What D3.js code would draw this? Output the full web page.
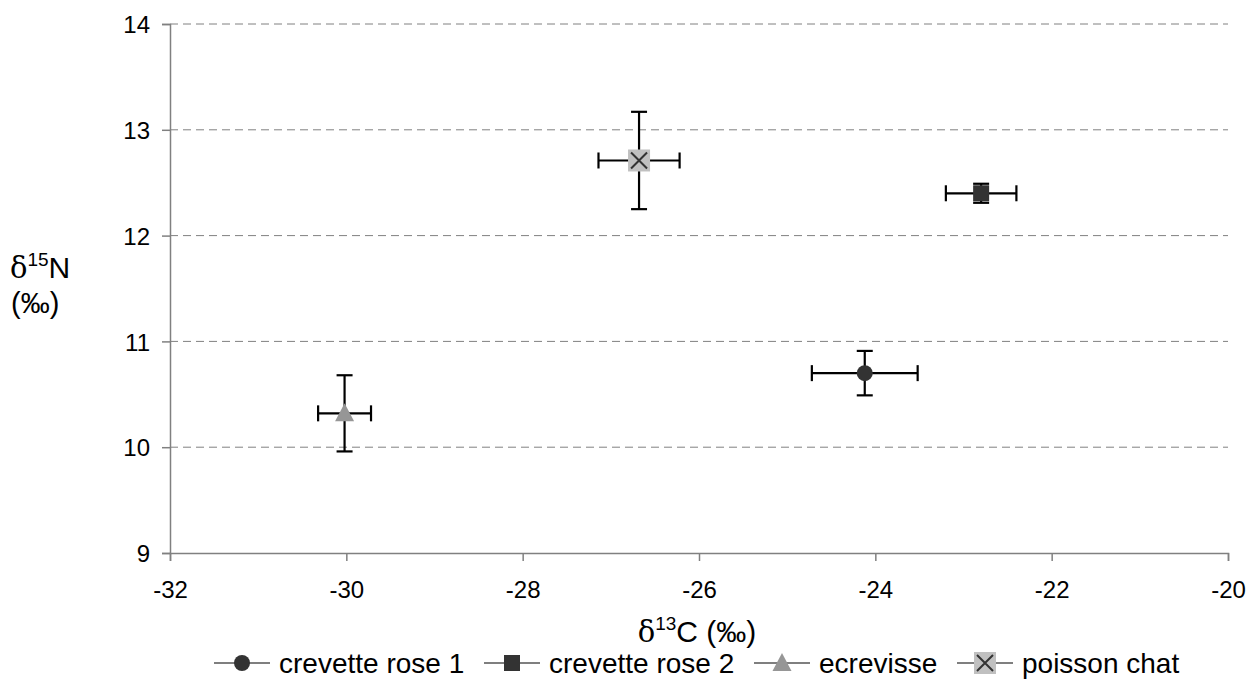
<!DOCTYPE html>
<html>
<head>
<meta charset="utf-8">
<script src="https://cdn.jsdelivr.net/npm/d3@7"></script>
<style>
  html, body { margin: 0; padding: 0; background: #fff; }
  svg { display: block; font-family: "Liberation Sans", Arial, sans-serif; }
</style>
</head>
<body>
<svg id="chart" width="1254" height="682"></svg>
<script>
// Stable isotope means (‰) and standard deviations per taxon
const species = ["crevette rose 1", "crevette rose 2", "ecrevisse", "poisson chat"];
const d13C    = [-24.12, -22.80, -30.02, -26.68];
const d15N    = [10.70, 12.40, 10.32, 12.71];
const sdC     = [0.60, 0.40, 0.30, 0.46];
const sdN     = [0.21, 0.09, 0.36, 0.46];
const xTicks  = [-32, -30, -28, -26, -24, -22, -20];
const yTicks  = [9, 10, 11, 12, 13, 14];

const rows = species.map((s, i) => ({ name: s, x: d13C[i], y: d15N[i], ex: sdC[i], ey: sdN[i], kind: i }));

const svg = d3.select("#chart");
const margin = { left: 170, right: 1228, top: 24, bottom: 553 };

const x = d3.scaleLinear().domain([-32, -20]).range([margin.left, margin.right]);
const y = d3.scaleLinear().domain([9, 14]).range([margin.bottom, margin.top]);

// dashed horizontal gridlines
svg.append("g")
  .selectAll("line")
  .data(yTicks.filter(t => t > 9))
  .join("line")
  .attr("x1", x(-32)).attr("x2", x(-20))
  .attr("y1", d => y(d)).attr("y2", d => y(d))
  .attr("stroke", "#808080").attr("stroke-width", 1)
  .attr("stroke-dasharray", "8,5");

// axes (plain hyphen for negative numbers)
const fmt = d => String(d);
const xAxis = svg.append("g")
  .attr("transform", `translate(0,${y(9)})`)
  .call(d3.axisBottom(x).tickValues(xTicks).tickSize(8).tickPadding(20).tickFormat(fmt));
const yAxis = svg.append("g")
  .attr("transform", `translate(${x(-32)},0)`)
  .call(d3.axisLeft(y).tickValues(yTicks).tickSize(8).tickPadding(12).tickFormat(fmt));

[xAxis, yAxis].forEach(g => {
  g.select(".domain").attr("stroke", "#808080").attr("stroke-width", 1.5);
  g.selectAll(".tick line").attr("stroke", "#808080").attr("stroke-width", 1.5);
  g.selectAll(".tick text").attr("fill", "#000").style("font-size", "24px")
    .style("font-family", "'Liberation Sans', Arial, sans-serif");
});
yAxis.selectAll(".tick text").attr("dy", "0.36em");

// error bars
const cap = 8;
const eb = svg.append("g").attr("stroke", "#000").attr("stroke-width", 2.2).attr("fill", "none");
rows.forEach(d => {
  const g = eb.append("g");
  g.append("line").attr("x1", x(d.x - d.ex)).attr("x2", x(d.x + d.ex)).attr("y1", y(d.y)).attr("y2", y(d.y));
  g.append("line").attr("x1", x(d.x - d.ex)).attr("x2", x(d.x - d.ex)).attr("y1", y(d.y) - cap).attr("y2", y(d.y) + cap);
  g.append("line").attr("x1", x(d.x + d.ex)).attr("x2", x(d.x + d.ex)).attr("y1", y(d.y) - cap).attr("y2", y(d.y) + cap);
  g.append("line").attr("y1", y(d.y - d.ey)).attr("y2", y(d.y + d.ey)).attr("x1", x(d.x)).attr("x2", x(d.x));
  g.append("line").attr("y1", y(d.y - d.ey)).attr("y2", y(d.y - d.ey)).attr("x1", x(d.x) - cap).attr("x2", x(d.x) + cap);
  g.append("line").attr("y1", y(d.y + d.ey)).attr("y2", y(d.y + d.ey)).attr("x1", x(d.x) - cap).attr("x2", x(d.x) + cap);
});

// marker drawing
function drawMarker(g, kind, cx, cy) {
  if (kind === 0) {
    g.append("circle").attr("cx", cx).attr("cy", cy).attr("r", 8).attr("fill", "#333333");
  } else if (kind === 1) {
    g.append("rect").attr("x", cx - 8).attr("y", cy - 8).attr("width", 16).attr("height", 16).attr("fill", "#333333");
  } else if (kind === 2) {
    g.append("path").attr("d", `M${cx},${cy - 10} L${cx + 9.5},${cy + 8} L${cx - 9.5},${cy + 8} Z`).attr("fill", "#969696");
  } else {
    g.append("rect").attr("x", cx - 11).attr("y", cy - 11).attr("width", 22).attr("height", 22).attr("fill", "#c0c0c0");
    g.append("path").attr("d", `M${cx - 8},${cy - 8} L${cx + 8},${cy + 8} M${cx + 8},${cy - 8} L${cx - 8},${cy + 8}`)
      .attr("stroke", "#333333").attr("stroke-width", 2);
  }
}

const mk = svg.append("g");
rows.forEach(d => drawMarker(mk, d.kind, x(d.x), y(d.y)));

// axis titles
const xt = svg.append("text").attr("x", 697).attr("y", 642).attr("text-anchor", "middle")
  .style("font-size", "30px").attr("fill", "#000");
xt.append("tspan").text("δ").style("font-family", "'DejaVu Serif', 'Liberation Serif', serif").style("font-size", "29px");
xt.append("tspan").text("13").attr("dy", "-12").style("font-size", "19px");
xt.append("tspan").text("C (‰)").attr("dy", "12");

const yt = svg.append("text").attr("x", 10).attr("y", 278).style("font-size", "30px").attr("fill", "#000");
yt.append("tspan").text("δ").style("font-family", "'DejaVu Serif', 'Liberation Serif', serif").style("font-size", "29px");
yt.append("tspan").text("15").attr("dy", "-12").style("font-size", "19px");
yt.append("tspan").text("N").attr("dy", "12");
svg.append("text").attr("x", 11).attr("y", 313).style("font-size", "29px").attr("fill", "#000").text("(‰)");

// legend
const legendStarts = [214, 484, 754, 957];
const lg = svg.append("g");
rows.forEach((d, i) => {
  const x0 = legendStarts[i], cy = 663;
  lg.append("line").attr("x1", x0).attr("x2", x0 + 56).attr("y1", cy).attr("y2", cy)
    .attr("stroke", "#555").attr("stroke-width", 1.5);
  drawMarker(lg, d.kind, x0 + 28, cy);
  lg.append("text").attr("x", x0 + 65).attr("y", cy + 10).style("font-size", "28px").attr("fill", "#000").text(d.name);
});
</script>
</body>
</html>
